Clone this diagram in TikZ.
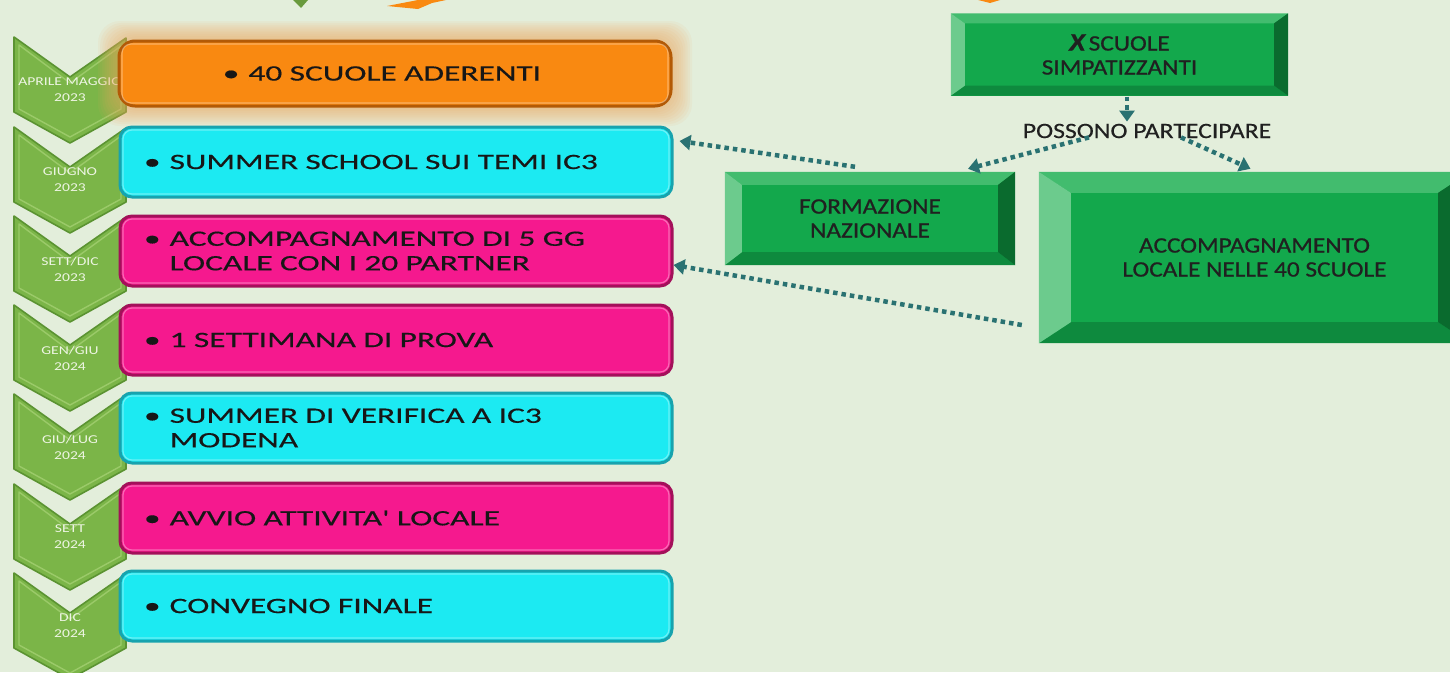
\documentclass[tikz,border=0pt]{standalone}
\usepackage{fontspec}
\setmainfont{Carlito}
\newfontfamily\boxfont{Carlito}[FakeStretch=1.52, WordSpace=1.9, FakeBold=0.4]
\newfontfamily\grfont{Carlito}[FakeStretch=1.15, FakeBold=0.7]
\newfontfamily\posfont{Carlito}[FakeStretch=1.17, FakeBold=0.3]
\newfontfamily\chevfont{Carlito}[FakeStretch=1.3]
\usetikzlibrary{calc,arrows.meta}
\definecolor{bg}{HTML}{E3EEDB}
\definecolor{chevfill}{HTML}{7BB548}
\definecolor{chevedge}{HTML}{5B9332}
\definecolor{chevlight}{HTML}{A3D072}
\definecolor{chevtext}{HTML}{EEF5E4}
\definecolor{cyanfill}{HTML}{1CEAF2}
\definecolor{cyanedge}{HTML}{17A3AE}
\definecolor{magfill}{HTML}{F5198E}
\definecolor{magedge}{HTML}{A3105A}
\definecolor{orgfill}{HTML}{F98911}
\definecolor{orgedge}{HTML}{B35A06}
\definecolor{glowc}{HTML}{F3A65C}
\definecolor{boxtext}{HTML}{171717}
\definecolor{ginner}{HTML}{13A84C}
\definecolor{gtop}{HTML}{42BC6E}
\definecolor{gleft}{HTML}{6CCB8D}
\definecolor{gright}{HTML}{0A6B2E}
\definecolor{gbottom}{HTML}{0E8A3E}
\definecolor{gtext}{HTML}{202020}
\definecolor{arrowc}{HTML}{2A7272}
\newcommand\bevelframe[3]{%
  \fill[gtop] (#1.north west) -- (#1.north east) -- ($(#1.north east)+(-#2,#3)$) -- ($(#1.north west)+(#2,#3)$) -- cycle;
  \fill[gbottom] (#1.south west) -- (#1.south east) -- ($(#1.south east)+(-#2,-#3)$) -- ($(#1.south west)+(#2,-#3)$) -- cycle;
  \fill[gleft] (#1.north west) -- (#1.south west) -- ($(#1.south west)+(#2,-#3)$) -- ($(#1.north west)+(#2,#3)$) -- cycle;
  \fill[gright] (#1.north east) -- (#1.south east) -- ($(#1.south east)+(-#2,-#3)$) -- ($(#1.north east)+(-#2,#3)$) -- cycle;
}
\newcommand\rimline[1]{%
  \draw[white, opacity=0.35, line width=1.2pt, rounded corners=9pt] ($(#1.north west)+(4.5,4.5)$) rectangle ($(#1.south east)+(-4.5,-4.5)$);
}
\begin{document}
\begin{tikzpicture}[x=1pt,y=-1pt,
  chev/.style={fill=chevfill, draw=chevedge, line width=1.6pt, line join=round},
  chevlbl/.style={font=\chevfont\fontsize{12}{16}\selectfont, text=chevtext, align=center, inner sep=0pt},
  stepbox/.style={rectangle, rounded corners=12pt, line width=3pt, minimum width=552pt, minimum height=70pt,
     inner xsep=24pt, inner ysep=0pt, text width=504pt, align=left, font=\boxfont\fontsize{22}{24.5}\selectfont, text=boxtext},
  cyanbox/.style={stepbox, fill=cyanfill, draw=cyanedge},
  magbox/.style={stepbox, fill=magfill, draw=magedge},
  orgbox/.style={stepbox, fill=orgfill, draw=orgedge, rounded corners=16pt, minimum width=548pt, minimum height=65pt, align=center},
  gbox/.style={rectangle, fill=ginner, font=\grfont\fontsize{22}{24}\selectfont, text=gtext, align=center, inner sep=0pt},
  dotarrow/.style={draw=arrowc, line width=4.5pt, dash pattern=on 4.5pt off 4pt, -{Triangle[width=15pt,length=11pt]}}
]
\clip (0,0) rectangle (1450,672);
\useasboundingbox (0,0) rectangle (1450,672);
\fill[bg] (0,0) rectangle (1450,672);

% fragments at the top edge
\fill[chevfill!85!black] (293,0) -- (308,0) -- (301,8) -- cycle;
\fill[orgfill] (387,6) -- (418,0) -- (446,0) -- (432,3) -- (418,9) -- cycle;
\fill[orgfill] (978,0) -- (1000,0) -- (990,3) -- cycle;

% chevrons
\foreach \T/\la/\lb [count=\i] in {37/APRILE MAGGIO/2023, 127/GIUGNO/2023, 216/SETT\slash DIC/2023, 305/GEN\slash GIU/2024, 394/GIU\slash LUG/2024, 484/SETT/2024, 573/DIC/2024}{
  \draw[chev] (14,\T) -- (70,{\T+40}) -- (126,{\T+1}) -- (126,{\T+75}) -- (70,{\T+106}) -- (14,{\T+75}) -- cycle;
  \draw[chevlight, line width=1.4pt, line join=round, opacity=0.8] (19,{\T+8}) -- (70,{\T+46}) -- (121,{\T+9}) -- (121,{\T+72}) -- (70,{\T+100}) -- (19,{\T+72}) -- cycle;
  \node[chevlbl] (c\i) at (70,{\T+53}) {\la\\\lb};
}

% glow of the first box
\foreach \k in {1,...,10}{
  \fill[glowc, opacity=0.08, rounded corners=22pt] ({120-\k*2.2},{40-\k*1.9}) rectangle ({670+\k*2.2},{107+\k*1.9});
}

% timeline boxes
\node[orgbox] (b1) at (395,73.5) {•\hspace{9pt}40 SCUOLE ADERENTI\hspace*{26pt}};
\node[cyanbox] (b2) at (396,162) {•\hspace{9pt}SUMMER SCHOOL SUI TEMI IC3};
\node[magbox] (b3) at (396,251) {•\hspace{9pt}ACCOMPAGNAMENTO DI 5 GG\\\hphantom{•}\hspace{9pt}LOCALE CON I 20 PARTNER};
\node[magbox] (b4) at (396,340) {•\hspace{9pt}1 SETTIMANA DI PROVA};
\node[cyanbox] (b5) at (396,428) {•\hspace{9pt}SUMMER DI VERIFICA A IC3\\\hphantom{•}\hspace{9pt}MODENA};
\node[magbox] (b6) at (396,518) {•\hspace{9pt}AVVIO ATTIVITA' LOCALE};
\node[cyanbox] (b7) at (396,606) {•\hspace{9pt}CONVEGNO FINALE};
\foreach \n in {b1,b2,b3,b4,b5,b6,b7}{\rimline{\n}}

% green bevel boxes
\node[gbox, minimum width=337pt, minimum height=82pt] (simp) at (1119.5,54.5)
  {{\fontsize{25}{24}\selectfont\bfseries\itshape X}\,SCUOLE\\SIMPATIZZANTI};
\bevelframe{simp}{14}{10}
\node[gbox, minimum width=290pt, minimum height=93pt] (form) at (870,218.5) {FORMAZIONE\\NAZIONALE};
\bevelframe{form}{17}{13}
\node[gbox, minimum width=431pt, minimum height=171pt] (acc) at (1254.5,257.5) {ACCOMPAGNAMENTO\\LOCALE NELLE 40 SCUOLE};
\bevelframe{acc}{32}{21}

\node[font=\posfont\fontsize{22}{24}\selectfont, text=gtext, inner sep=2pt] (possono) at (1147,131) {POSSONO PARTECIPARE};

% connectors
\draw[dotarrow] ($(simp.south)+(7.5,1)$) -- ($(possono.north)+(-20,0)$);
\draw[dotarrow] ($(possono.south)+(-58,-3)$) -- ($(form.north)+(98,-3)$);
\draw[dotarrow] ($(possono.south)+(34,-3)$) -- ($(acc.north)+(-4,-3)$);
\draw[dotarrow] ($(form.north)+(-15,-5)$) -- ($(b2.east)+(6,-21)$);
\draw[dotarrow] ($(acc.west)+(-17,67.5)$) -- ($(b3.east)+(0,14)$);
\end{tikzpicture}
\end{document}
